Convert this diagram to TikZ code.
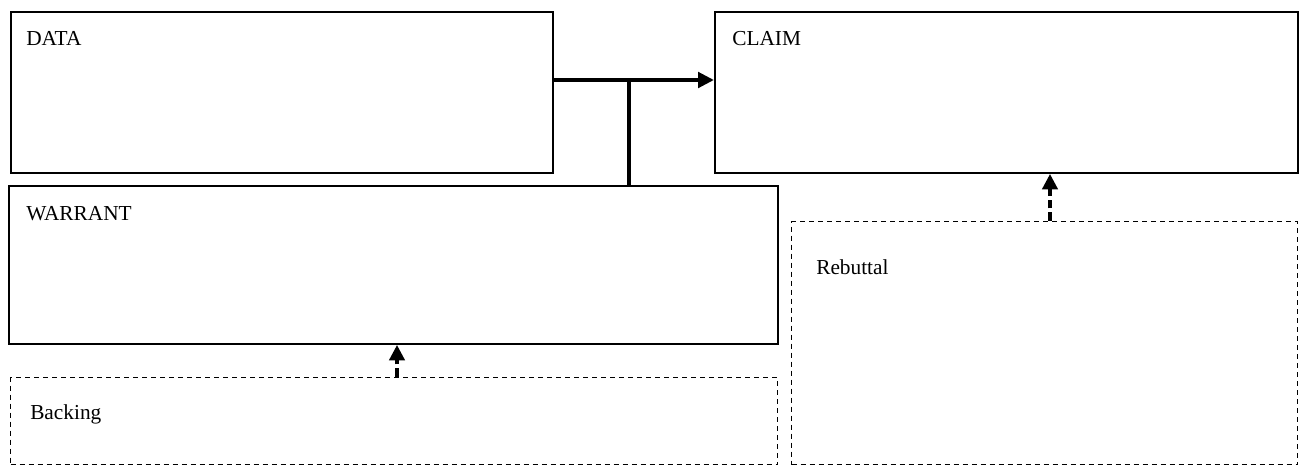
\documentclass[tikz,border=0pt]{standalone}
\usepackage{fontspec}
\setmainfont{Liberation Serif}
\usetikzlibrary{arrows.meta}
\begin{document}
\begin{tikzpicture}[x=0.75pt,y=-0.75pt,
  solidbox/.style={draw,line width=1.5pt,inner sep=0pt,anchor=north west},
  dashbox/.style={draw,line width=1pt,dash pattern=on 3.75pt off 3pt,inner sep=0pt,anchor=north west},
  boxtext/.style={anchor=base west,inner sep=0pt,font=\fontsize{16}{19}\selectfont},
  mainarrow/.style={line width=3pt,-{Triangle[length=12pt,width=11.5pt]}},
  mainline/.style={line width=3pt},
  dasharrow/.style={line width=2.4pt,dash pattern=on 6.5pt off 3pt,-{Triangle[length=11.5pt,width=11.5pt]}}]
  \useasboundingbox (0,0) rectangle (1299,465);
  % main boxes
  \node[solidbox,minimum width=542*0.75pt,minimum height=161*0.75pt] (data) at (10,11) {};
  \node[solidbox,minimum width=583*0.75pt,minimum height=161*0.75pt] (claim) at (714,11) {};
  \node[solidbox,minimum width=769*0.75pt,minimum height=158*0.75pt] (warrant) at (8,185) {};
  % qualifying boxes
  \node[dashbox,minimum width=767*0.75pt,minimum height=87*0.75pt] (backing) at (10,377) {};
  \node[dashbox,minimum width=506*0.75pt,minimum height=243*0.75pt] (rebuttal) at (791,221) {};
  % labels
  \node[boxtext] (datat) at (26,45) {DATA};
  \node[boxtext] (claimt) at (732,45) {CLAIM};
  \node[boxtext] (warrantt) at (26,220) {WARRANT};
  \node[boxtext] (backingt) at (30,419) {Backing};
  \node[boxtext] (rebuttalt) at (816,274) {Rebuttal};
  % data -> claim, with the warrant joining the line
  \coordinate (j) at (629,80);
  \draw[mainarrow] (data.east |- j) -- (claim.west |- j);
  \draw[mainline] (j) -- (warrant.north -| j);
  % backing and rebuttal
  \coordinate (b) at (397,0);
  \coordinate (r) at (1050,0);
  \draw[dasharrow] (backing.north -| b) -- (warrant.south -| b);
  \draw[dasharrow] (rebuttal.north -| r) -- (claim.south -| r);
\end{tikzpicture}
\end{document}
